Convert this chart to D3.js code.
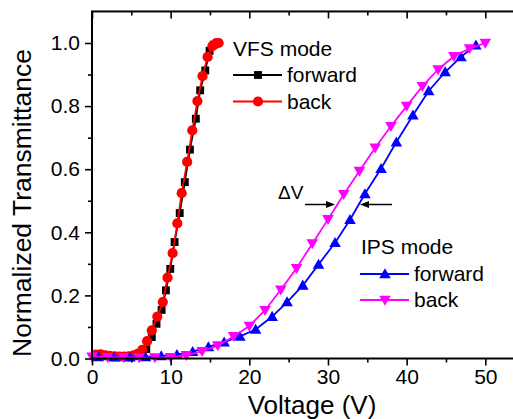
<!DOCTYPE html>
<html>
<head>
<meta charset="utf-8">
<script src="https://cdn.jsdelivr.net/npm/d3@7"></script>
<style>
  html, body { margin: 0; padding: 0; background: #fff; }
  svg { display: block; }
  text { font-family: "Liberation Sans", Arial, sans-serif; fill: #000; }
</style>
</head>
<body>
<svg id="chart" width="513" height="419"></svg>
<script>
// ---- Data ----
const vfsForwardV = [0.4,1.0,1.6,2.2,2.8,3.4,4.0,4.6,5.2,5.8,6.3,6.9,7.6,8.2,8.85,9.4,9.95,10.5,11.15,11.8,12.45,13.2,13.75,14.4,14.95,15.5,16.0];
const vfsForwardT = [0.010,0.012,0.010,0.008,0.007,0.006,0.006,0.006,0.007,0.008,0.012,0.030,0.068,0.110,0.154,0.216,0.284,0.369,0.461,0.559,0.662,0.760,0.850,0.913,0.975,0.995,1.000];

const vfsBackV = [0.5,1.1,1.7,2.3,2.9,3.5,4.1,4.7,5.3,5.8,6.4,7.0,7.6,8.3,9.0,9.6,10.25,10.85,11.4,12.1,12.75,13.4,14.05,14.7,15.3,15.8,16.1];
const vfsBackT = [0.012,0.013,0.010,0.008,0.007,0.006,0.006,0.007,0.010,0.015,0.027,0.055,0.089,0.133,0.179,0.256,0.334,0.428,0.524,0.623,0.723,0.816,0.895,0.956,0.990,1.000,1.000];

const ipsForwardV = [0.8,2.8,4.8,6.8,8.8,10.8,12.8,14.8,16.8,18.8,20.8,22.9,24.8,26.8,28.8,30.9,32.8,34.7,36.75,38.7,40.8,42.8,44.9,46.9,48.8];
const ipsForwardT = [0.005,0.004,0.004,0.005,0.008,0.012,0.022,0.037,0.052,0.070,0.092,0.133,0.179,0.232,0.298,0.367,0.440,0.522,0.602,0.686,0.771,0.848,0.908,0.956,0.993];

const ipsBackV = [0,2,4,6,8,10,12,14,16,18,20,22,24,26,28,30,32,34,36,38,40,42,44,46,48,50];
const ipsBackT = [0.005,0.004,0.004,0.003,0.003,0.004,0.010,0.023,0.041,0.070,0.103,0.153,0.218,0.286,0.364,0.441,0.520,0.594,0.668,0.736,0.800,0.863,0.916,0.958,0.982,1.000];

const xTickValues = [0,10,20,30,40,50];
const xMinorTicks = [5,15,25,35,45];
const yTickValues = [0.0,0.2,0.4,0.6,0.8,1.0];
const yMinorTicks = [0.1,0.3,0.5,0.7,0.9];

const xTitle = "Voltage (V)";
const yTitle = "Normalized Transmittance";

// ---- Setup ----
const svg = d3.select("#chart");
const x = d3.scaleLinear().domain([0,55]).range([92, 92 + 55*7.866]);
const y = d3.scaleLinear().domain([0,1.1]).range([358.5, 358.5 - 1.1*315.5]);

const zip = (a,b) => a.map((v,i)=>[v,b[i]]);

const series = [
  {data: zip(vfsForwardV, vfsForwardT), color:"#000000", sym:d3.symbolSquare, size:62, rot:0},
  {data: zip(vfsBackV, vfsBackT), color:"#ff0000", sym:d3.symbolCircle, size:82, rot:0},
  {data: zip(ipsForwardV, ipsForwardT), color:"#0000ff", sym:d3.symbolTriangle, size:58, rot:0},
  {data: zip(ipsBackV, ipsBackT), color:"#ff00ff", sym:d3.symbolTriangle, size:58, rot:180}
];

const line = d3.line().x(d=>x(d[0])).y(d=>y(d[1]));

series.forEach(s=>{
  svg.append("path").datum(s.data)
    .attr("d", line).attr("fill","none").attr("stroke", s.color).attr("stroke-width",1.8);
  svg.append("g").selectAll("path").data(s.data).join("path")
    .attr("d", d3.symbol().type(s.sym).size(s.size))
    .attr("transform", d=>`translate(${x(d[0])},${y(d[1]) + (s.sym===d3.symbolTriangle ? (s.rot? -1:1) : 0)}) rotate(${s.rot})`)
    .attr("fill", s.color);
});

// ---- Axes ----
const axisStyle = g => {
  g.select(".domain").remove();
  g.selectAll(".tick line").attr("stroke","#000").attr("stroke-width",1.6);
};

// bottom
svg.append("g").attr("transform",`translate(0,${y(0)})`)
  .call(d3.axisBottom(x).tickValues(xTickValues).tickSize(7).tickPadding(4).tickFormat(d3.format("d")))
  .call(axisStyle)
  .call(g=>g.selectAll("text").attr("font-size",21).attr("font-family","Liberation Sans, Arial, sans-serif"));
svg.append("g").attr("transform",`translate(0,${y(0)})`)
  .call(d3.axisBottom(x).tickValues(xMinorTicks).tickSize(4).tickFormat(""))
  .call(axisStyle);

// top (ticks inward)
svg.append("g").attr("transform",`translate(0,${y(1.1)})`)
  .call(d3.axisBottom(x).tickValues(xTickValues).tickSize(7).tickFormat(""))
  .call(axisStyle);
svg.append("g").attr("transform",`translate(0,${y(1.1)})`)
  .call(d3.axisBottom(x).tickValues(xMinorTicks).tickSize(4).tickFormat(""))
  .call(axisStyle);

// left
svg.append("g").attr("transform",`translate(${x(0)},0)`)
  .call(d3.axisLeft(y).tickValues(yTickValues).tickSize(7).tickPadding(5).tickFormat(d3.format(".1f")))
  .call(axisStyle)
  .call(g=>g.selectAll("text").attr("font-size",21).attr("font-family","Liberation Sans, Arial, sans-serif"));
svg.append("g").attr("transform",`translate(${x(0)},0)`)
  .call(d3.axisLeft(y).tickValues(yMinorTicks).tickSize(4).tickFormat(""))
  .call(axisStyle);

// frame
svg.append("rect")
  .attr("x", x(0)).attr("y", y(1.1))
  .attr("width", x(55)-x(0)).attr("height", y(0)-y(1.1))
  .attr("fill","none").attr("stroke","#000").attr("stroke-width",2);

// titles
svg.append("text").attr("x", 312).attr("y", 414).attr("text-anchor","middle")
  .attr("font-size",26).text(xTitle);
svg.append("text").attr("transform",`translate(31,203) rotate(-90)`).attr("text-anchor","middle")
  .attr("font-size",26.5).text(yTitle);

// ---- Legends ----
function legendItem(x0, yl, color, sym, size, rot, label) {
  svg.append("line").attr("x1",x0).attr("x2",x0+49).attr("y1",yl).attr("y2",yl)
    .attr("stroke",color).attr("stroke-width",1.8);
  svg.append("path").attr("d", d3.symbol().type(sym).size(size))
    .attr("transform",`translate(${x0+25},${yl + (sym===d3.symbolTriangle ? (rot? -1:1) : 0)}) rotate(${rot})`)
    .attr("fill",color);
  svg.append("text").attr("x", x0+54).attr("y", yl+7).attr("font-size",21).text(label);
}
svg.append("text").attr("x",233).attr("y",55.5).attr("font-size",21).text("VFS mode");
legendItem(233, 75, "#000000", d3.symbolSquare, 62, 0, "forward");
legendItem(233, 101.5, "#ff0000", d3.symbolCircle, 82, 0, "back");

svg.append("text").attr("x",361).attr("y",253.5).attr("font-size",21).text("IPS mode");
legendItem(360, 274, "#0000ff", d3.symbolTriangle, 58, 0, "forward");
legendItem(360, 300, "#ff00ff", d3.symbolTriangle, 58, 180, "back");

// ---- ΔV annotation ----
svg.append("text").attr("x",278).attr("y",198.5).attr("font-size",19).text("ΔV");
const ay = 204.5;
svg.append("line").attr("x1",305).attr("x2",330).attr("y1",ay).attr("y2",ay).attr("stroke","#000").attr("stroke-width",1.5);
svg.append("path").attr("d",`M335,${ay} L326,${ay-3.5} L326,${ay+3.5} Z`).attr("fill","#000");
svg.append("line").attr("x1",392).attr("x2",365).attr("y1",ay).attr("y2",ay).attr("stroke","#000").attr("stroke-width",1.5);
svg.append("path").attr("d",`M360,${ay} L369,${ay-3.5} L369,${ay+3.5} Z`).attr("fill","#000");
</script>
</body>
</html>
